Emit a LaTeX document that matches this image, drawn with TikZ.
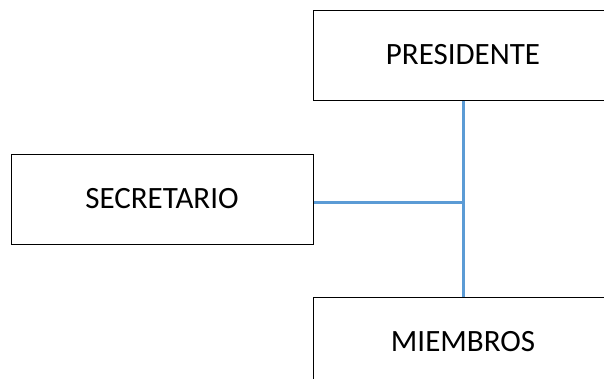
\documentclass[tikz,border=0pt]{standalone}
\usepackage{xcolor}
\usepackage{fontspec}
\setmainfont{Carlito}
\usepackage{tikz}

\begin{document}
\begin{tikzpicture}[x=1pt, y=-1pt]
        \useasboundingbox (0, 0) rectangle (604, 378);
        \node[draw, line width=1pt, minimum width=300pt, minimum height=90pt, font=\fontsize{31}{33}\selectfont] at (463, 55) (pres) {PRESIDENTE};
        \node[draw, line width=1pt, minimum width=302pt, minimum height=90pt, font=\fontsize{31}{33}\selectfont] at (162, 199) (secr) {SECRETARIO};
        \node[draw, line width=1pt, minimum width=300pt, minimum height=90pt, font=\fontsize{31}{33}\selectfont] at (463, 342) (miem) {MIEMBROS};
        \coordinate (junc) at (463, 202);
        \draw[color={rgb,255:red,91;green,155;blue,213}, line width=3pt] (pres) -- (miem);
        \draw[color={rgb,255:red,91;green,155;blue,213}, line width=3pt] (secr.east |- junc) -- (junc);
    \end{tikzpicture}
\end{document}
